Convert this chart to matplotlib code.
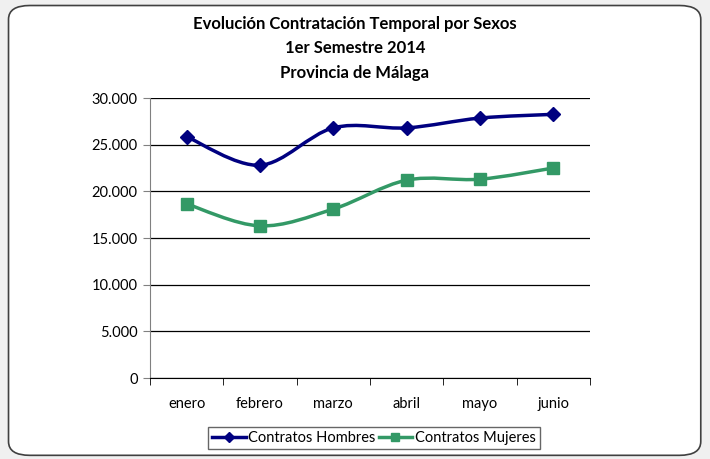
import matplotlib.pyplot as plt
from matplotlib.path import Path
from matplotlib.patches import PathPatch, FancyBboxPatch
from matplotlib.lines import Line2D
from matplotlib.ticker import FuncFormatter

plt.rcParams['font.family'] = ['Lato', 'DejaVu Sans']

meses = ['enero', 'febrero', 'marzo', 'abril', 'mayo', 'junio']
hombres = [25850, 22800, 26800, 26800, 27850, 28250]
mujeres = [18650, 16300, 18100, 21200, 21300, 22500]

azul = '#000080'
verde = '#339966'


def smooth_path(xs, ys, t=1 / 6):
    # catmull-rom style bezier like excel smoothed lines
    verts = [(xs[0], ys[0])]
    codes = [Path.MOVETO]
    n = len(xs)
    for i in range(n - 1):
        x0, y0 = (xs[i - 1], ys[i - 1]) if i > 0 else (xs[i], ys[i])
        x1, y1 = xs[i], ys[i]
        x2, y2 = xs[i + 1], ys[i + 1]
        x3, y3 = (xs[i + 2], ys[i + 2]) if i + 2 < n else (x2, y2)
        verts += [(x1 + (x2 - x0) * t, y1 + (y2 - y0) * t),
                  (x2 - (x3 - x1) * t, y2 - (y3 - y1) * t),
                  (x2, y2)]
        codes += [Path.CURVE4] * 3
    return Path(verts, codes)


fig = plt.figure(figsize=(7.1, 4.59), dpi=100)
fig.patch.set_facecolor('#f0f0f0')
marco = FancyBboxPatch((0.012, 0.008), 0.975, 0.98,
                       boxstyle='round,pad=0,rounding_size=0.03',
                       transform=fig.transFigure, facecolor='white',
                       edgecolor='#404040', linewidth=1.2, zorder=-10)
fig.patches.append(marco)

ax = fig.add_axes([150 / 710, 1 - 378 / 459, 440 / 710, 280 / 459])
ax.set_facecolor('white')
x = list(range(len(meses)))

for ys, col, mk, ms in [(hombres, azul, 'D', 7), (mujeres, verde, 's', 8)]:
    ax.add_patch(PathPatch(smooth_path(x, ys), facecolor='none', edgecolor=col,
                           linewidth=2.5, zorder=3))
    ax.plot(x, ys, linestyle='none', marker=mk, markersize=ms, color=col, zorder=4)

ax.set_xlim(-0.5, len(meses) - 0.5)
ax.set_ylim(0, 30000)
ax.set_yticks(range(0, 30001, 5000))
ax.yaxis.set_major_formatter(FuncFormatter(lambda v, p: f'{int(v):,}'.replace(',', '.')))
ax.set_xticks(x)
ax.set_xticklabels(meses)
ax.set_xticks([i - 0.5 for i in range(len(meses) + 1)], minor=True)
ax.tick_params(axis='x', which='major', length=0, pad=14, labelsize=10.5)
ax.tick_params(axis='x', which='minor', length=5, direction='out', color='black')
ax.tick_params(axis='y', length=5, direction='out', color='#808080', labelsize=10.5, pad=4)
ax.grid(axis='y', color='black', linewidth=0.9)
ax.set_axisbelow(True)
for s in ['top', 'right']:
    ax.spines[s].set_visible(False)
ax.spines['left'].set_color('#808080')
ax.spines['bottom'].set_color('black')

fig.text(0.5, 1 - 16 / 459, 'Evolución Contratación Temporal por Sexos\n1er Semestre 2014\nProvincia de Málaga',
         ha='center', va='top', fontsize=12, fontweight='bold', linespacing=1.65)

handles = [Line2D([], [], color=azul, marker='D', markersize=5, linewidth=2.5),
           Line2D([], [], color=verde, marker='s', markersize=6, linewidth=2.5)]
leg = fig.legend(handles, ['Contratos Hombres', 'Contratos Mujeres'], loc='center',
                 bbox_to_anchor=(374 / 710, 1 - 438 / 459), ncol=2, frameon=True,
                 fancybox=False, edgecolor='#404040', fontsize=10.5, handlelength=2.3,
                 handletextpad=0.2, columnspacing=0.2, borderpad=0.3)
leg.get_frame().set_linewidth(1.0)

fig.savefig('out.png', dpi=100, facecolor=fig.get_facecolor())
